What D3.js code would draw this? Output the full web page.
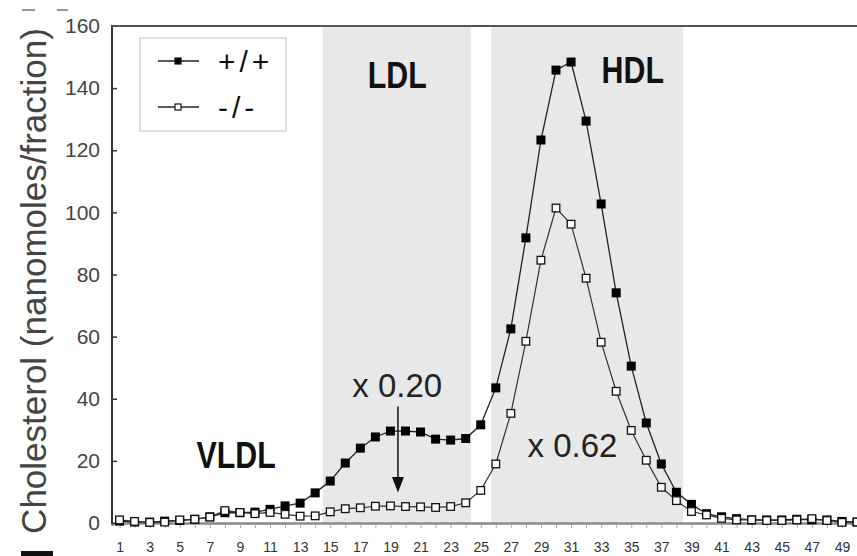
<!DOCTYPE html>
<html>
<head>
<meta charset="utf-8">
<script src="https://cdn.jsdelivr.net/npm/d3@7/dist/d3.min.js"></script>
<style>
  body { margin: 0; background: #fff; }
  svg { display: block; font-family: "Liberation Sans", Arial, Helvetica, sans-serif; }
</style>
</head>
<body>
<div id="chart"></div>
<script>
// fractions 1..50 (50 is clipped at the right edge)
const fractions = d3.range(1, 51);

// +/+ (filled squares), nanomoles/fraction
const wildType = [0.6, 0.3, 0.3, 0.6, 0.8, 1.2, 2.0, 3.3, 3.3, 3.5, 4.4, 5.5, 6.4, 9.7, 13.5,
  19.3, 24.1, 27.7, 29.6, 29.6, 29.3, 27.0, 26.7, 27.2, 31.6, 43.5, 62.5, 91.8, 123.3, 145.8,
  148.4, 129.4, 102.7, 74.1, 50.5, 32.2, 19.0, 9.9, 6.0, 3.0, 2.0, 1.4, 1.0, 1.0, 1.0,
  1.2, 1.0, 1.0, 0.5, 0.3];

// -/- (open squares)
const knockout = [1.0, 0.5, 0.2, 0.3, 1.0, 1.2, 1.9, 4.0, 3.4, 3.0, 3.4, 2.8, 2.2, 2.3, 3.6,
  4.6, 4.9, 5.4, 5.5, 5.3, 5.2, 5.0, 5.3, 6.5, 10.5, 19.0, 35.3, 58.5, 84.6, 101.4,
  96.2, 78.8, 58.2, 42.4, 29.8, 20.2, 11.5, 7.2, 3.7, 2.6, 1.5, 1.0, 1.0, 0.8, 0.8,
  1.0, 1.4, 0.8, 0.2, 0.3];

const yTicks = [0, 20, 40, 60, 80, 100, 120, 140, 160];
const xTickLabels = d3.range(1, 50, 2);

// shaded lipoprotein ranges, in fraction units
const ldlRange = [14.5, 24.35];
const hdlRange = [25.7, 38.45];

const W = 857, H = 556;
const svg = d3.select("#chart").append("svg")
  .attr("width", W).attr("height", H);

const x = d3.scaleLinear().domain([0.5, 50]).range([112, 857]);
const y = d3.scaleLinear().domain([0, 160]).range([523, 26]);

// shaded bands
[ldlRange, hdlRange].forEach(r => {
  svg.append("rect")
    .attr("x", x(r[0])).attr("y", y(160) + 1)
    .attr("width", x(r[1]) - x(r[0]))
    .attr("height", y(0) - y(160) - 1)
    .attr("fill", "#e8e8e8");
});

// bottom axis
const xAxis = svg.append("g")
  .attr("transform", `translate(0,${y(0)})`)
  .call(d3.axisBottom(x).tickValues(fractions.slice(0, 49)).tickSize(3).tickPadding(16)
    .tickFormat(d => xTickLabels.includes(d) ? d : ""));
xAxis.select(".domain").attr("stroke", "#8a8a8a").attr("stroke-width", 2.5);
xAxis.selectAll(".tick line").attr("stroke", "#aaa").attr("stroke-width", 1).attr("y1", 2).attr("y2", 5);
xAxis.selectAll(".tick text").attr("font-size", 14).attr("fill", "#333");

// left axis
const yAxis = svg.append("g")
  .attr("transform", `translate(${x(0.5)},0)`)
  .call(d3.axisLeft(y).tickValues(yTicks).tickSize(7).tickPadding(5));
yAxis.select(".domain").remove();
yAxis.selectAll(".tick line").attr("stroke", "#333").attr("stroke-width", 1.5).attr("x2", 5)
  .filter(d => d === 160).remove();
yAxis.selectAll(".tick text").attr("font-size", 21).attr("fill", "#444");

svg.append("line")
  .attr("x1", x(0.5)).attr("x2", x(0.5)).attr("y1", y(160)).attr("y2", y(0) + 1)
  .attr("stroke", "#333").attr("stroke-width", 2);
svg.append("line")
  .attr("x1", x(0.5) - 1).attr("x2", W).attr("y1", y(160)).attr("y2", y(160))
  .attr("stroke", "#555").attr("stroke-width", 2);

// y label
svg.append("text")
  .attr("transform", "translate(46,281) rotate(-90)")
  .attr("text-anchor", "middle")
  .attr("font-size", 35).attr("fill", "#444")
  .text("Cholesterol (nanomoles/fraction)");

// series lines
const line = vals => d3.line().x((d, i) => x(fractions[i])).y(d => y(d))(vals);
svg.append("path").attr("d", line(wildType))
  .attr("fill", "none").attr("stroke", "#222").attr("stroke-width", 1.3);
svg.append("path").attr("d", line(knockout))
  .attr("fill", "none").attr("stroke", "#333").attr("stroke-width", 1.2);

// markers
svg.append("g").selectAll("rect").data(wildType).join("rect")
  .attr("x", (d, i) => x(fractions[i]) - 4.5).attr("y", d => y(d) - 4.5)
  .attr("width", 9).attr("height", 9).attr("fill", "#000");
svg.append("g").selectAll("rect").data(knockout).join("rect")
  .attr("x", (d, i) => x(fractions[i]) - 3.8).attr("y", d => y(d) - 3.8)
  .attr("width", 7.6).attr("height", 7.6)
  .attr("fill", "#fff").attr("stroke", "#111").attr("stroke-width", 1.3);

// region labels
const bold = (label, fx, fy) => svg.append("text")
  .attr("transform", `translate(${x(fx)},${y(fy)}) scale(0.82,1)`)
  .attr("text-anchor", "middle").attr("font-size", 37).attr("font-weight", "bold")
  .attr("fill", "#111").text(label);
bold("LDL", 19.45, 140);
bold("HDL", 35.1, 141.7);
bold("VLDL", 8.75, 17.6);

const note = (label, fx, fy) => svg.append("text")
  .attr("x", x(fx)).attr("y", y(fy))
  .attr("text-anchor", "middle").attr("font-size", 33).attr("fill", "#222").text(label);
note("x 0.20", 19.45, 40.6);
note("x 0.62", 31.1, 21.2);

// arrow from the scale note down to the -/- curve
svg.append("line")
  .attr("x1", x(19.5)).attr("x2", x(19.5)).attr("y1", y(37.5)).attr("y2", y(13))
  .attr("stroke", "#111").attr("stroke-width", 1.5);
svg.append("path")
  .attr("d", `M${x(19.5) - 6},${y(14.8)} L${x(19.5) + 6},${y(14.8)} L${x(19.5)},${y(9.8)} Z`)
  .attr("fill", "#111");

// legend
const lg = svg.append("g");
lg.append("rect").attr("x", 140).attr("y", 38).attr("width", 146).attr("height", 93)
  .attr("fill", "#fff").attr("stroke", "#ccc").attr("stroke-width", 1.2);
[["+/+", true, 61], ["-/-", false, 107]].forEach(([lab, filled, ly]) => {
  lg.append("line").attr("x1", 158).attr("x2", 199).attr("y1", ly).attr("y2", ly)
    .attr("stroke", "#222").attr("stroke-width", 1.3);
  lg.append("rect").attr("x", 175).attr("y", ly - 3).attr("width", 6).attr("height", 6)
    .attr("fill", filled ? "#000" : "#fff").attr("stroke", "#111").attr("stroke-width", 1.2);
  lg.append("text").attr("x", 218).attr("y", ly + 11)
    .attr("font-size", 30).attr("letter-spacing", 4).attr("fill", "#111").text(lab);
});

// cut-off marks at the picture edges
svg.append("line").attr("x1", 22).attr("x2", 35).attr("y1", 10).attr("y2", 10)
  .attr("stroke", "#777").attr("stroke-width", 1.5);
svg.append("line").attr("x1", 57).attr("x2", 68).attr("y1", 10).attr("y2", 10)
  .attr("stroke", "#777").attr("stroke-width", 1.5);
svg.append("rect").attr("x", 21).attr("y", 551).attr("width", 32).attr("height", 5).attr("fill", "#111");
</script>
</body>
</html>
